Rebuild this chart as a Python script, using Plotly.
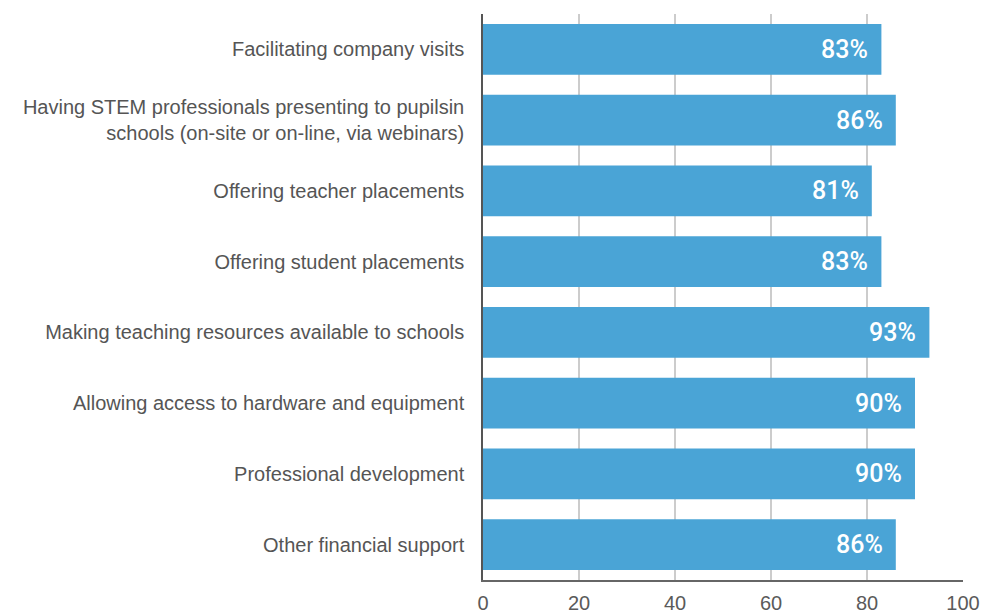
import plotly.graph_objects as go

categories = [
    "Facilitating company visits",
    "Having STEM professionals presenting to pupilsin<br>schools (on-site or on-line, via webinars)",
    "Offering teacher placements",
    "Offering student placements",
    "Making teaching resources available to schools",
    "Allowing access to hardware and equipment",
    "Professional development",
    "Other financial support",
]
values = [83, 86, 81, 83, 93, 90, 90, 86]
tick_vals = [0, 20, 40, 60, 80, 100]

BAR = "#4aa4d6"

fig = go.Figure()
fig.add_trace(go.Bar(
    x=values, y=categories, orientation="h",
    marker=dict(color=BAR, line=dict(width=0)),
    hoverinfo="skip",
))

for v, c in zip(values, categories):
    fig.add_annotation(
        x=v, y=c, text=f"{v}%", showarrow=False,
        xanchor="right", xshift=-11, yshift=0,
        font=dict(family="Roboto, DejaVu Sans Condensed, sans-serif", size=25,
                  color="white", weight=500),
    )

fig.update_layout(
    width=984, height=615,
    margin=dict(l=483, r=21, t=14, b=35, autoexpand=False),
    paper_bgcolor="white", plot_bgcolor="white",
    bargap=0.28,
    showlegend=False,
    font=dict(family="Liberation Sans, Arial, sans-serif", color="#555555"),
)
fig.update_xaxes(
    range=[0, 100], tickvals=tick_vals, ticks="",
    showgrid=True, gridcolor="#cccccc", gridwidth=1.5,
    showline=True, linecolor="#666666", linewidth=1.5,
    tickfont=dict(size=20, color="#5a5a5a"),
    ticklabelstandoff=4, automargin=False,
    zeroline=False, fixedrange=True,
)
fig.update_yaxes(
    autorange="reversed", ticks="",
    showline=True, linecolor="#555555", linewidth=1.5,
    tickfont=dict(size=20, color="#555555"),
    ticklabelstandoff=13, automargin=False,
    showgrid=False, fixedrange=True,
)

fig.write_html(
    "out.html",
    config={"displayModeBar": False},
    post_script="document.body.style.margin='0';document.body.style.padding='0';",
)
